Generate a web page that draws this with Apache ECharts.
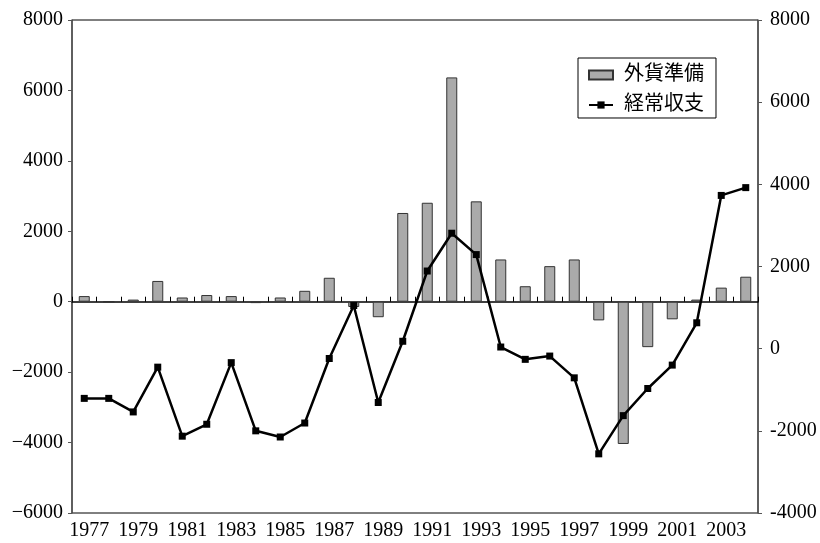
<!DOCTYPE html>
<html><head><meta charset="utf-8">
<script src="https://cdn.jsdelivr.net/npm/echarts@6/dist/echarts.min.js"></script>
<style>html,body{margin:0;padding:0;background:#fff}#c{width:820px;height:543px}</style>
</head><body><div id="c"></div>
<script>
const years = ['1977','1978','1979','1980','1981','1982','1983','1984','1985','1986','1987','1988','1989','1990','1991','1992','1993','1994','1995','1996','1997','1998','1999','2000','2001','2002','2003','2004'];
const reserves = [160,0,60,590,120,190,160,-40,120,310,680,-150,-440,2520,2810,6370,2850,1200,440,1010,1200,-530,-4040,-1290,-500,60,400,710];
const currentAccount = [-1210,-1210,-1540,-450,-2130,-1840,-340,-2000,-2150,-1810,-240,1050,-1310,180,1890,2810,2290,40,-260,-180,-710,-2560,-1630,-970,-400,630,3730,3920];
const seriesNames = ['外貨準備','経常収支'];
const leftTicks = {min:-6000, max:8000, interval:2000};
const rightTicks = {min:-4000, max:8000, interval:2000};

const FONT = '"Liberation Serif", "DejaVu Serif", "Noto Sans CJK JP", serif';
const chart = echarts.init(document.getElementById('c'));
chart.setOption({
  animation:false,
  backgroundColor:'#fff',
  textStyle:{fontFamily:FONT},
  grid:{left:72,right:62,top:20,bottom:30,show:true,borderColor:'#000',borderWidth:1,backgroundColor:'transparent'},
  legend:{
    orient:'vertical', left:578, top:58,
    backgroundColor:'#fff', borderColor:'#000', borderWidth:1,
    padding:[7,12,3,10], itemGap:10, itemWidth:24, itemHeight:9,
    textStyle:{fontFamily:FONT,fontSize:20,color:'#000',padding:[0,0,0,6]},
    data:[{name:seriesNames[0],icon:'rect'},{name:seriesNames[1]}]
  },
  xAxis:[
    {type:'category',data:years,position:'bottom',
     axisLine:{onZero:true,onZeroAxisIndex:0,lineStyle:{color:'#000',width:1.5}},
     axisTick:{show:true,inside:true,length:5,interval:0,lineStyle:{color:'#000'}},
     axisLabel:{show:false},splitLine:{show:false}},
    {type:'category',data:years,position:'bottom',
     axisLine:{show:false,onZero:false},axisTick:{show:false},
     axisLabel:{interval:1,fontFamily:FONT,fontSize:20,color:'#000',margin:8,padding:[0,0,0,10]},
     splitLine:{show:false}}
  ],
  yAxis:[
    {type:'value',position:'left',min:leftTicks.min,max:leftTicks.max,interval:leftTicks.interval,
     axisLine:{show:true,lineStyle:{color:'#555',width:1.5}},
     axisTick:{show:true,length:4,lineStyle:{color:'#555'}},
     axisLabel:{fontFamily:FONT,fontSize:20,color:'#000',margin:9,formatter:v=>String(v).replace('-','\u2212')},
     splitLine:{show:false}},
    {type:'value',position:'right',min:rightTicks.min,max:rightTicks.max,interval:rightTicks.interval,
     axisLine:{show:true,lineStyle:{color:'#555',width:1.5}},
     axisTick:{show:true,length:4,lineStyle:{color:'#555'}},
     axisLabel:{fontFamily:FONT,fontSize:20,color:'#000',margin:12,formatter:v=>String(v)},
     splitLine:{show:false}}
  ],
  series:[
    {name:seriesNames[0],type:'bar',xAxisIndex:0,yAxisIndex:0,data:reserves,barWidth:11,
     itemStyle:{color:'#aaaaaa',borderColor:'#333',borderWidth:1}},
    {name:seriesNames[1],type:'line',xAxisIndex:0,yAxisIndex:1,data:currentAccount,
     symbol:'rect',symbolSize:7,showAllSymbol:true,
     lineStyle:{color:'#000',width:2.5},itemStyle:{color:'#000'}}
  ]
});
</script></body></html>
